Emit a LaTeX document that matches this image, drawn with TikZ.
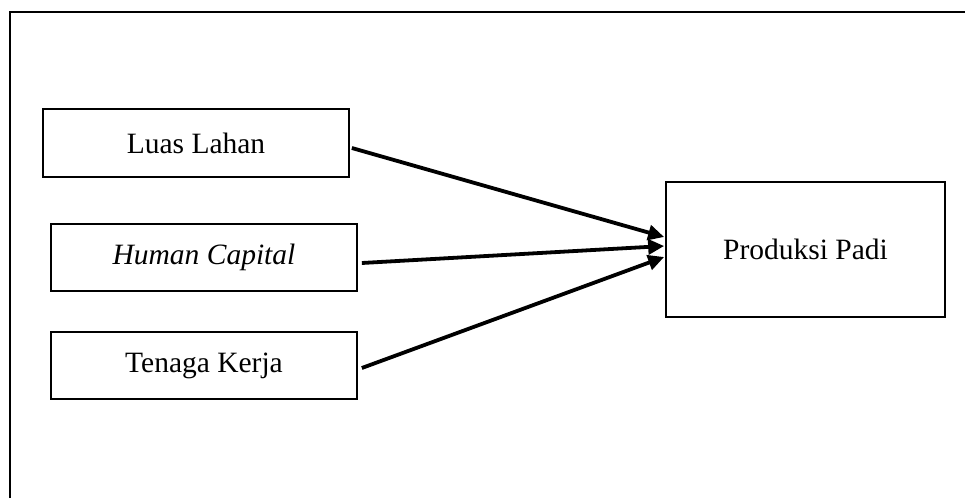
\documentclass[tikz,border=0pt]{standalone}
\usepackage{fontspec}
\setmainfont{Liberation Serif}
\usetikzlibrary{arrows.meta,calc}
\begin{document}
\begin{tikzpicture}[x=1pt,y=-1pt,
  box/.style={draw,line width=1.7pt,inner sep=0pt,font=\fontsize{29.5}{34}\selectfont},
  arr/.style={line width=3.8pt,-{Triangle[length=16pt,width=15pt]}}]
\useasboundingbox (0,0) rectangle (965,498);
\draw[line width=2pt] (10,498) -- (10,12) -- (965,12);
\node[box,minimum width=306pt,minimum height=68pt] (LL) at (196,143) {\raisebox{-3pt}{Luas Lahan}};
\node[box,minimum width=306pt,minimum height=67pt] (HC) at (204,257.5) {\raisebox{-3pt}{\itshape Human Capital}};
\node[box,minimum width=306pt,minimum height=67pt] (TK) at (204,365.5) {\raisebox{-3pt}{Tenaga Kerja}};
\node[box,minimum width=279pt,minimum height=135pt] (PP) at (805.5,249.5) {\raisebox{-3pt}{Produksi Padi}};
\draw[arr] ($(LL.east)+(2,5)$) -- ($(PP.west)+(-1,-12.5)$);
\draw[arr] ($(HC.east)+(4,5.5)$) -- ($(PP.west)+(-1,-3.5)$);
\draw[arr] ($(TK.east)+(4,2.5)$) -- ($(PP.west)+(-1,7.5)$);
\end{tikzpicture}
\end{document}
